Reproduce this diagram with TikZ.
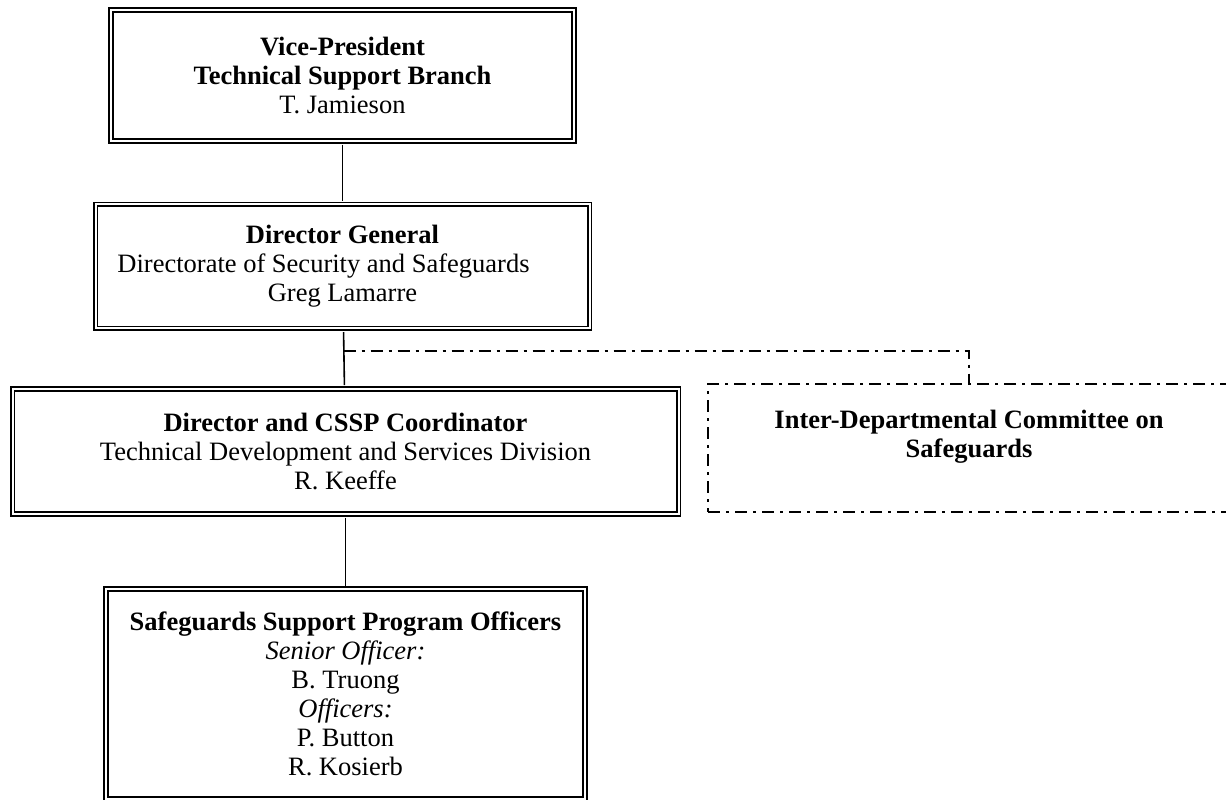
\documentclass[tikz,border=0pt]{standalone}
\usepackage{fontspec}
\setmainfont{Liberation Serif}
\usepackage{tikz}
\usetikzlibrary{positioning,calc}

\begin{document}
\begin{tikzpicture}[x=1pt, y=-1pt, font=\fontsize{26.5}{29}\selectfont,
  post/.style={draw, double, line width=1.8pt, double distance=2pt, align=center, inner sep=0pt},
  panel/.style={draw, line width=2pt, dash pattern=on 12pt off 6pt on 3pt off 6pt, align=center, inner sep=0pt},
  link/.style={line width=1.6pt, shorten <=2.8pt, shorten >=2.8pt},
  liaison/.style={line width=2pt, dash pattern=on 12pt off 6pt on 3pt off 6pt}]
\useasboundingbox (0,0) rectangle (1226,800);
\node[post, minimum width=463pt, minimum height=131pt] (vp) at (342.5,75.5)
  {\textbf{Vice-President}\\ \textbf{Technical Support Branch}\\ T. Jamieson};
\node[post, minimum width=494pt, minimum height=124pt, below=61.6pt of vp] (dg)
  {\textbf{Director General}\\ Directorate of Security and Safeguards\rule{38pt}{0pt}\\ Greg Lamarre};
\node[post, minimum width=666pt, minimum height=125pt, below=58.6pt of dg, xshift=3pt] (dir)
  {\textbf{Director and CSSP Coordinator}\\ Technical Development and Services Division\\ R. Keeffe};
\node[post, minimum width=479pt, minimum height=210pt, below=73.6pt of dir] (sspo)
  {\textbf{Safeguards Support Program Officers}\\ \textit{Senior Officer:}\\ B. Truong\\
   \textit{Officers:}\\ P. Button\\ R. Kosierb};
\node[panel, minimum width=522pt, minimum height=128pt, anchor=west] (idc) at (707,448)
  {\textbf{Inter-Departmental Committee on}\\ \textbf{Safeguards}\\ ~};
\draw[link] (vp) -- (dg);
\draw[link] (dg) -- (dir);
\draw[link] (dir) -- (sspo);
\coordinate (tap) at ($(dg.south)!0.37!(dir.north)$);
\draw[liaison] (tap) -| (idc.north);
\end{tikzpicture}
\end{document}
